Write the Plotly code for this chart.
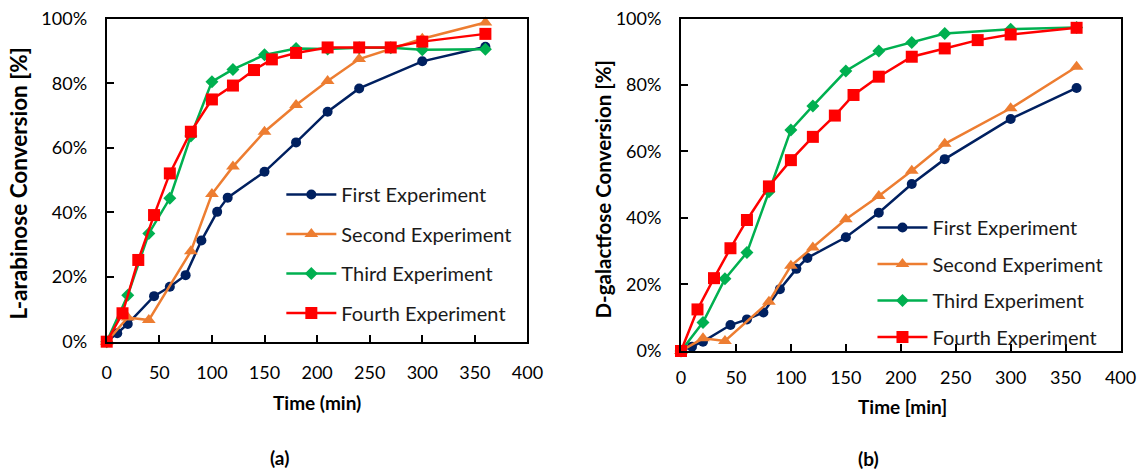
import plotly.graph_objects as go

# ---------------- data ----------------
series_names = ["First Experiment", "Second Experiment", "Third Experiment", "Fourth Experiment"]

# (a) L-arabinose
a_first_t = [0, 10, 20, 45, 60, 75, 90, 105, 115, 150, 180, 210, 240, 300, 360]
a_first_y = [0, 2.6, 5.5, 14.1, 17.0, 20.6, 31.3, 40.2, 44.6, 52.6, 61.7, 71.2, 78.4, 86.8, 91.3]
a_second_t = [0, 20, 40, 80, 100, 120, 150, 180, 210, 240, 300, 360]
a_second_y = [0, 7.5, 6.7, 28.0, 45.7, 54.2, 65.0, 73.3, 80.7, 87.5, 93.8, 98.8]
a_third_t = [0, 20, 40, 60, 80, 100, 120, 150, 180, 210, 240, 270, 300, 360]
a_third_y = [0, 14.4, 33.5, 44.4, 63.7, 80.5, 84.3, 88.8, 90.8, 90.6, 91.0, 91.0, 90.4, 90.5]
a_fourth_t = [0, 15, 30, 45, 60, 80, 100, 120, 140, 157, 180, 210, 240, 270, 300, 360]
a_fourth_y = [0, 8.8, 25.3, 39.2, 52.1, 65.0, 75.0, 79.3, 84.1, 87.4, 89.4, 91.1, 91.1, 91.1, 92.9, 95.3]

# (b) D-galactose
b_first_t = [0, 10, 20, 45, 60, 75, 90, 105, 115, 150, 180, 210, 240, 300, 360]
b_first_y = [0, 1.3, 2.8, 7.8, 9.5, 11.6, 18.6, 24.7, 28.0, 34.2, 41.6, 50.2, 57.7, 69.8, 79.1]
b_second_t = [0, 20, 40, 80, 100, 120, 150, 180, 210, 240, 300, 360]
b_second_y = [0, 3.8, 3.0, 14.8, 25.6, 31.1, 39.6, 46.6, 54.2, 62.3, 73.0, 85.5]
b_third_t = [0, 20, 40, 60, 80, 100, 120, 150, 180, 210, 240, 300, 360]
b_third_y = [0, 8.6, 21.7, 29.6, 47.9, 66.5, 73.7, 84.2, 90.2, 92.8, 95.5, 96.8, 97.3]
b_fourth_t = [0, 15, 30, 45, 60, 80, 100, 120, 140, 157, 180, 210, 240, 270, 300, 360]
b_fourth_y = [0, 12.5, 21.9, 30.9, 39.4, 49.5, 57.4, 64.4, 70.8, 77.0, 82.5, 88.5, 91.0, 93.5, 95.2, 97.2]

x_ticks = [0, 50, 100, 150, 200, 250, 300, 350, 400]
y_ticks = [0, 0.2, 0.4, 0.6, 0.8, 1.0]

colors = ["#002060", "#ED7D31", "#00B050", "#FF0000"]
symbols = ["circle", "triangle-up", "diamond", "square"]
msizes = [10, 12, 10, 12]

FONT = "Lato, Calibri, Carlito, sans-serif"

fig = go.Figure()

panels = [
    ("x", "y", "legend", [(a_first_t, a_first_y), (a_second_t, a_second_y),
                          (a_third_t, a_third_y), (a_fourth_t, a_fourth_y)]),
    ("x2", "y2", "legend2", [(b_first_t, b_first_y), (b_second_t, b_second_y),
                             (b_third_t, b_third_y), (b_fourth_t, b_fourth_y)]),
]

for xa, ya, lg, data in panels:
    for i, (t, v) in enumerate(data):
        fig.add_trace(go.Scatter(
            x=t, y=[val / 100 for val in v],
            mode="lines+markers",
            name=series_names[i],
            legend=lg,
            legendgroup=lg + str(i),
            line=dict(color=colors[i], width=2.5),
            marker=dict(symbol=symbols[i], size=msizes[i], color=colors[i]),
            cliponaxis=False,
            xaxis=xa, yaxis=ya,
        ))

axis_common = dict(
    showgrid=False, zeroline=False, showline=True, linecolor="black", linewidth=2,
    mirror=True, ticks="inside", ticklen=7, tickwidth=2, tickcolor="black",
    automargin=False,
    tickfont=dict(family=FONT, size=18, color="black"),
)

fig.update_layout(
    width=1139, height=472,
    margin=dict(l=0, r=0, t=0, b=0, pad=0, autoexpand=False),
    paper_bgcolor="white", plot_bgcolor="white",
    font=dict(family=FONT, color="black"),
    xaxis=dict(domain=[0.0937, 0.4631], range=[0, 400], tickvals=x_ticks,
               anchor="y", ticklabelstandoff=14, **axis_common),
    yaxis=dict(domain=[0.2761, 0.9604], range=[0, 1], tickvals=y_ticks, tickformat=".0%",
               anchor="x", ticklabelstandoff=14, **axis_common),
    xaxis2=dict(domain=[0.5979, 0.9838], range=[0, 400], tickvals=x_ticks,
                anchor="y2", ticklabelstandoff=9, **axis_common),
    yaxis2=dict(domain=[0.2564, 0.9608], range=[0, 1], tickvals=y_ticks, tickformat=".0%",
                anchor="x2", ticklabelstandoff=14, **axis_common),
    legend=dict(x=0.247, y=1 - 175 / 472, xanchor="left", yanchor="top",
                bgcolor="rgba(0,0,0,0)", font=dict(family=FONT, size=20, color="#1a1a1a"),
                tracegroupgap=10.5, itemwidth=50, itemclick=False),
    legend2=dict(x=0.766, y=1 - 208 / 472, xanchor="left", yanchor="top",
                 bgcolor="rgba(0,0,0,0)", font=dict(family=FONT, size=20, color="#1a1a1a"),
                 tracegroupgap=7.5, itemwidth=50, itemclick=False),
    showlegend=True,
)

annots = [
    dict(text="<b>L-arabinose Conversion [%]</b>", x=18 / 1139, y=1 - 183.5 / 472, textangle=-90,
         font=dict(size=22.5)),
    dict(text="<b>D-galactfose Conversion [%]</b>", x=602 / 1139, y=1 - 189.5 / 472, textangle=-90,
         font=dict(size=20.5)),
    dict(text="<b>Time (min)</b>", x=317 / 1139, y=1 - 402 / 472, font=dict(size=19)),
    dict(text="<b>Time [min]</b>", x=902 / 1139, y=1 - 406 / 472, font=dict(size=19)),
    dict(text="<b>(a)</b>", x=279 / 1139, y=1 - 457 / 472, font=dict(size=19)),
    dict(text="<b>(b)</b>", x=868 / 1139, y=1 - 458 / 472, font=dict(size=19)),
]
for a in annots:
    fig.add_annotation(xref="paper", yref="paper", showarrow=False,
                       xanchor="center", yanchor="middle", **a)

fig.write_html("out.html")
